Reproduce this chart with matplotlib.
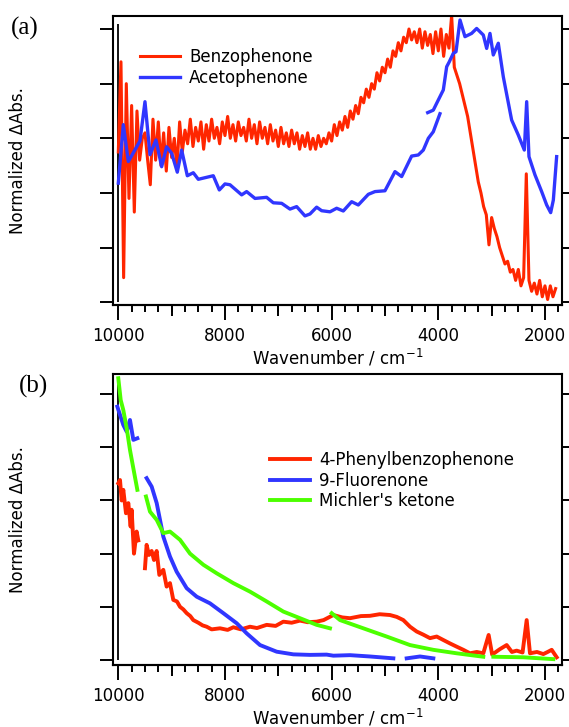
import numpy as np
import matplotlib.pyplot as plt
from matplotlib.ticker import MultipleLocator

plt.rcParams['font.family'] = ['DejaVu Sans']

# ---- panel (a) ----
# benzophenone sampled every 50 cm-1 from 10000 down to 1800
benzo_wn = np.arange(10000, 1750, -50)
benzo_abs = [
    # 10000 - 9350
    0.55, 0.88, 0.09, 0.80, 0.38, 0.72, 0.33, 0.70, 0.52, 0.60, 0.62, 0.52, 0.43, 0.67,
    # 9300 - 3800
    0.52, 0.66, 0.50, 0.62, 0.48, 0.64, 0.53, 0.60, 0.49, 0.66,
    0.55, 0.63, 0.58, 0.67, 0.57, 0.64, 0.59, 0.66, 0.56, 0.65,
    0.59, 0.67, 0.60, 0.64, 0.58, 0.66, 0.61, 0.68, 0.60, 0.65,
    0.59, 0.66, 0.61, 0.64, 0.59, 0.67, 0.60, 0.65, 0.58, 0.66,
    0.60, 0.64, 0.58, 0.65, 0.59, 0.63, 0.57, 0.64, 0.58, 0.62,
    0.57, 0.63, 0.58, 0.62, 0.56, 0.61, 0.57, 0.62, 0.56, 0.60,
    0.56, 0.61, 0.57, 0.60, 0.58, 0.62, 0.59, 0.65, 0.61, 0.66,
    0.63, 0.68, 0.64, 0.70, 0.67, 0.72, 0.69, 0.75, 0.73, 0.78,
    0.75, 0.80, 0.78, 0.84, 0.81, 0.86, 0.84, 0.89, 0.86, 0.92,
    0.90, 0.95, 0.92, 0.97, 0.95, 1.00, 0.96, 0.99, 0.95, 1.00,
    0.93, 0.99, 0.94, 0.98, 0.91, 0.99, 0.92, 1.00, 0.90, 0.98,
    0.93,
    # 3750 - 1800
    1.05, 0.86, 0.83, 0.80, 0.76, 0.72, 0.68, 0.62, 0.56, 0.50,
    0.44, 0.40, 0.35, 0.32, 0.21, 0.31, 0.27, 0.24, 0.20, 0.17,
    0.14, 0.15, 0.11, 0.12, 0.08, 0.12, 0.06, 0.09, 0.47, 0.08,
    0.04, 0.07, 0.03, 0.08, 0.02, 0.06, 0.01, 0.06, 0.02, 0.05]

aceto_wn = [10000, 9906, 9812, 9594, 9500, 9406, 9294, 9187, 9094, 8999,
            8894, 8812, 8706, 8594, 8500, 8219, 8106, 8000, 7906, 7687,
            7594, 7437, 7219, 7094, 6937, 6781, 6656, 6500, 6406, 6281,
            6187, 6031, 5906, 5781, 5625, 5500, 5312, 5187, 5000, 4812,
            4687, 4500, 4375, 4281, 4187, 4094, 3969, np.nan,
            4199, 4094, 4031, 3906, 3843, 3794, 3719, 3668, 3593, 3500,
            3375, 3281, 3156, 3093, 3031, 2969, 2875, 2781, 2625, 2500,
            2387, 2343, 2300, 2187, 2062, 1968, 1893, 1843, 1781]
aceto_abs = [0.436, 0.65, 0.515, 0.59, 0.734, 0.54, 0.594, 0.496, 0.569, 0.545,
             0.476, 0.557, 0.463, 0.474, 0.45, 0.463, 0.411, 0.433, 0.43, 0.393,
             0.405, 0.38, 0.384, 0.364, 0.362, 0.341, 0.35, 0.316, 0.323, 0.348,
             0.335, 0.331, 0.344, 0.334, 0.368, 0.356, 0.395, 0.405, 0.408, 0.478,
             0.46, 0.535, 0.539, 0.557, 0.60, 0.624, 0.69, np.nan,
             0.694, 0.703, 0.728, 0.777, 0.862, 0.88, 0.911, 0.917, 1.033, 0.972,
             0.984, 1.002, 0.978, 0.929, 0.984, 0.905, 0.948, 0.825, 0.667, 0.612,
             0.557, 0.734, 0.533, 0.466, 0.405, 0.356, 0.328, 0.374, 0.533]

# ---- panel (b) ----
phbp_wn = [10000, 9968, 9937, 9906, 9856, 9812, 9769, 9750, 9706, 9656, 9625, np.nan,
           9500, 9469, 9425, 9375, 9331, 9281, 9231, 9156, 9094, 9031,
           8969, 8900, 8843, 8780, 8718, 8650, 8594, 8500, 8420, 8343, 8250, 8093,
           7950, 7843, 7700, 7531, 7400, 7218, 7050, 6906, 6750, 6593,
           6450, 6281, 6150, 5968, 5800, 5656, 5450, 5281, 5100, 4906,
           4780, 4656, 4530, 4406, 4280, 4156, 4030, 3906, 3780, 3656,
           3530, 3406, 3280, 3156, 3056, 2990, 2850, 2718, 2620, 2531,
           2420, 2343, 2281, 2150, 2031, 1950, 1874, 1780]
phbp_abs = [0.665, 0.677, 0.60, 0.64, 0.552, 0.59, 0.502, 0.565, 0.40, 0.483, 0.45, np.nan,
            0.345, 0.433, 0.395, 0.41, 0.376, 0.41, 0.32, 0.339, 0.276, 0.289,
            0.226, 0.22, 0.20, 0.19, 0.176, 0.165, 0.15, 0.14, 0.13, 0.125, 0.115, 0.119,
            0.113, 0.123, 0.115, 0.125, 0.12, 0.132, 0.128, 0.144, 0.14, 0.148,
            0.142, 0.144, 0.15, 0.169, 0.16, 0.157, 0.165, 0.166, 0.172, 0.169,
            0.162, 0.15, 0.125, 0.107, 0.095, 0.082, 0.088, 0.075, 0.062, 0.05,
            0.038, 0.025, 0.03, 0.025, 0.094, 0.02, 0.04, 0.056, 0.03, 0.035,
            0.028, 0.15, 0.025, 0.03, 0.022, 0.03, 0.038, 0.01]

fluo_wn = [10018, 9968, 9906, 9843, 9781, 9718, 9643, np.nan,
           9469, 9374, 9280, 9156, 9031, 8906, 8718, 8530, 8281, 8031,
           7780, 7593, 7343, 7030, 6718, 6406, 6093, 5968, 5656, 5281,
           4843, np.nan, 4593, 4343, 4093]
fluo_abs = [0.953, 0.922, 0.884, 0.859, 0.903, 0.828, 0.834, np.nan,
            0.684, 0.652, 0.59, 0.464, 0.389, 0.332, 0.27, 0.238, 0.213, 0.176,
            0.138, 0.10, 0.056, 0.031, 0.021, 0.019, 0.02, 0.016, 0.018, 0.013,
            0.006, np.nan, 0.006, 0.013, 0.006]

mich_wn = [10000, 9955, 9906, 9843, 9781, 9718, 9643, np.nan,
           9481, 9406, 9280, 9156, 9031, 8843, 8655, 8405, 8155, 7843,
           7531, 7218, 6906, 6593, 6281, 6031, np.nan,
           5999, 5843, 5406, 4968, 4531, 4093, 3656, 3156, np.nan,
           2968, 2406, 1843]
mich_abs = [1.06, 0.978, 0.94, 0.872, 0.79, 0.721, 0.64, np.nan,
            0.615, 0.558, 0.527, 0.477, 0.483, 0.452, 0.40, 0.358, 0.326, 0.289,
            0.257, 0.22, 0.182, 0.157, 0.132, 0.119, np.nan,
            0.176, 0.15, 0.119, 0.088, 0.056, 0.038, 0.025, 0.012, np.nan,
            0.012, 0.01, 0.003]

zero_time_wn = 10000
mid_ticks = [9000, 7000, 5000, 3000]

red = '#ff2600'
blue = '#3036ff'
green = '#4cff00'


def style(ax, ylim):
    ax.set_xlim(10094, 1687)
    ax.set_ylim(*ylim)
    for s in ax.spines.values():
        s.set_linewidth(1.5)
    ax.xaxis.set_major_locator(MultipleLocator(2000))
    ax.xaxis.set_minor_locator(MultipleLocator(250))
    ax.yaxis.set_major_locator(MultipleLocator(0.2))
    ax.tick_params(axis='x', which='major', direction='out', length=10.5,
                   width=1.4, labelsize=12, pad=5, top=False)
    ax.tick_params(axis='x', which='minor', direction='out', length=5,
                   width=1.4, top=False)
    ax.tick_params(axis='y', which='major', direction='out', length=9.5,
                   width=1.4, left=True, right=True, labelleft=False)
    ax.tick_params(axis='y', which='minor', left=False, right=False)
    sec = ax.secondary_xaxis('bottom')
    sec.set_xticks(mid_ticks)
    sec.tick_params(length=8, width=1.4, labelbottom=False)
    sec.spines['bottom'].set_linewidth(1.5)
    ax.set_xlabel('Wavenumber / cm$^{-1}$', fontsize=12, labelpad=2)
    ax.set_ylabel('Normalized ΔAbs.', fontsize=12)
    ax.yaxis.set_label_coords(-0.192, 0.5)


fig = plt.figure(figsize=(5.69, 7.27), dpi=100)
ax1 = fig.add_axes([0.1991, 0.5805, 0.788, 0.398])
ax2 = fig.add_axes([0.1991, 0.0853, 0.788, 0.4003])

# (a)
ax1.vlines(zero_time_wn, 0.0, 1.02, color='black', lw=1.3)
ax1.plot(benzo_wn, benzo_abs, color=red, lw=2.2, label='Benzophenone')
ax1.plot(aceto_wn, aceto_abs, color=blue, lw=2.4, label='Acetophenone')
style(ax1, (-0.01, 1.049))
ax1.legend(frameon=False, loc='upper left', bbox_to_anchor=(0.0595, 0.888),
           borderaxespad=0, borderpad=0, handlelength=2.4, handletextpad=0.55,
           labelspacing=0.15, fontsize=12)

# (b)
ax2.vlines(zero_time_wn, 0.0, 1.05, color='black', lw=1.3)
ax2.plot(phbp_wn, phbp_abs, color=red, lw=2.8, label='4-Phenylbenzophenone')
ax2.plot(fluo_wn, fluo_abs, color=blue, lw=2.8, label='9-Fluorenone')
ax2.plot(mich_wn, mich_abs, color=green, lw=2.8, label="Michler's ketone")
style(ax2, (-0.019, 1.076))
ax2.legend(frameon=False, loc='upper left', bbox_to_anchor=(0.349, 0.735),
           borderaxespad=0, borderpad=0, handlelength=2.4, handletextpad=0.55,
           labelspacing=0.15, fontsize=12)

fig.text(25 / 569, 1 - 28 / 727, '(a)', family='Liberation Serif', fontsize=18,
         ha='center', va='center')
fig.text(33 / 569, 1 - 386 / 727, '(b)', family='Liberation Serif', fontsize=18,
         ha='center', va='center')

fig.savefig('out.png', dpi=100)
